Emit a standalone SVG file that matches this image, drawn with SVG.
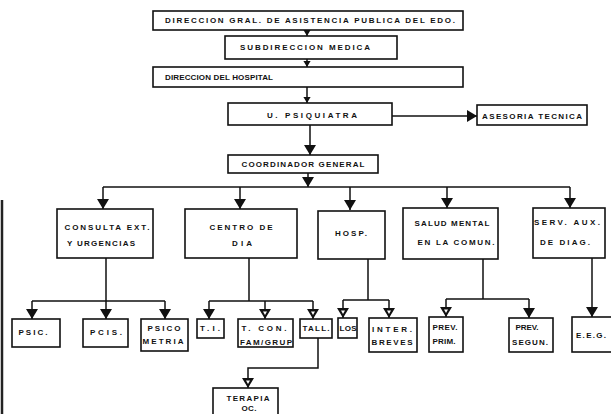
<svg xmlns="http://www.w3.org/2000/svg" width="611" height="414" viewBox="0 0 611 414">
<style>
.b{fill:#fff;stroke:#111;stroke-width:1.6}
.t{font-family:"Liberation Sans",Arial,sans-serif;font-weight:bold;font-size:8px;fill:#111;text-anchor:middle;dominant-baseline:central}
.c{fill:none;stroke:#111;stroke-width:1.5}
</style>
<defs>
<marker id="a" viewBox="0 0 10 12" markerUnits="userSpaceOnUse" markerWidth="10" markerHeight="12" refX="10" refY="6" orient="auto"><path d="M0,0 L10,6 L0,12 z" fill="#111"/></marker>
<marker id="s" viewBox="0 0 10 12" markerUnits="userSpaceOnUse" markerWidth="6" markerHeight="8" refX="10" refY="6" orient="auto"><path d="M0,0 L10,6 L0,12 z" fill="#111"/></marker>
<marker id="h" viewBox="0 0 10 12" markerUnits="userSpaceOnUse" markerWidth="10" markerHeight="12" refX="10" refY="6" orient="auto"><path d="M0,0 L10,6 L0,12 z" fill="#111"/><path d="M2.5,4 L6,6 L2.5,8 z" fill="#fff"/></marker>
</defs>
<line x1="2" y1="200" x2="2" y2="414" stroke="#222" stroke-width="2.5"/>
<g id="connectors">
<line class="c" x1="307" y1="30" x2="307" y2="36" marker-end="url(#s)"/>
<line class="c" x1="307" y1="59" x2="307" y2="67" marker-end="url(#s)"/>
<line class="c" x1="307" y1="87" x2="307" y2="103" marker-end="url(#s)"/>
<line class="c" x1="392" y1="116" x2="477" y2="116" marker-end="url(#a)"/>
<line class="c" x1="310" y1="125" x2="310" y2="155" marker-end="url(#a)"/>
<line class="c" x1="308" y1="173" x2="308" y2="187" marker-end="url(#a)"/>
<line class="c" x1="103" y1="187" x2="570" y2="187"/>
<line class="c" x1="103" y1="187" x2="103" y2="209" marker-end="url(#a)"/>
<line class="c" x1="240" y1="187" x2="240" y2="209" marker-end="url(#a)"/>
<line class="c" x1="350" y1="187" x2="350" y2="210" marker-end="url(#a)"/>
<line class="c" x1="447" y1="187" x2="447" y2="208" marker-end="url(#a)"/>
<line class="c" x1="570" y1="187" x2="570" y2="208" marker-end="url(#a)"/>
<path class="c" d="M106,258 V301 M32,301 H165"/>
<line class="c" x1="32" y1="301" x2="32" y2="319" marker-end="url(#a)"/>
<line class="c" x1="106" y1="301" x2="106" y2="319" marker-end="url(#a)"/>
<line class="c" x1="165" y1="301" x2="165" y2="319" marker-end="url(#a)"/>
<path class="c" d="M249,258 V301 M209,301 H313"/>
<line class="c" x1="209" y1="301" x2="209" y2="319" marker-end="url(#a)"/>
<line class="c" x1="265" y1="301" x2="265" y2="319" marker-end="url(#h)"/>
<line class="c" x1="313" y1="301" x2="313" y2="319" marker-end="url(#h)"/>
<path class="c" d="M318,338 V368 H248 V388" marker-end="url(#h)"/>
<path class="c" d="M368,259 V300 M343,300 H389"/>
<line class="c" x1="343" y1="300" x2="343" y2="318" marker-end="url(#h)"/>
<line class="c" x1="389" y1="300" x2="389" y2="318" marker-end="url(#h)"/>
<path class="c" d="M483,259 V299 M446,299 H529"/>
<line class="c" x1="446" y1="299" x2="446" y2="317" marker-end="url(#h)"/>
<line class="c" x1="529" y1="299" x2="529" y2="318" marker-end="url(#a)"/>
<line class="c" x1="592" y1="258" x2="592" y2="317" marker-end="url(#a)"/>
</g>
<g id="n1"><rect class="b" x="153" y="11" width="310" height="19"/><text class="t" x="310" y="20.5" textLength="290">DIRECCION GRAL. DE ASISTENCIA PUBLICA DEL EDO.</text></g>
<g id="n2"><rect class="b" x="225" y="36" width="172" height="23"/><text class="t" x="305" y="47.5" textLength="130">SUBDIRECCION MEDICA</text></g>
<g id="n3"><rect class="b" x="153" y="67" width="310" height="20"/><text class="t" x="219" y="77" textLength="108">DIRECCION DEL HOSPITAL</text></g>
<g id="n4"><rect class="b" x="228" y="103" width="164" height="22"/><text class="t" x="312" y="115" textLength="90">U. PSIQUIATRA</text></g>
<g id="n5"><rect class="b" x="477" y="105" width="110" height="20"/><text class="t" x="532" y="116" textLength="100">ASESORIA TECNICA</text></g>
<g id="n6"><rect class="b" x="228" y="155" width="150" height="18"/><text class="t" x="303" y="164" textLength="123">COORDINADOR GENERAL</text></g>
<g id="n7"><rect class="b" x="57" y="209" width="96" height="49"/><text class="t" x="107" y="227" textLength="85">CONSULTA EXT.</text><text class="t" x="101" y="243" textLength="68">Y URGENCIAS</text></g>
<g id="n8"><rect class="b" x="185" y="209" width="112" height="49"/><text class="t" x="241" y="227" textLength="63">CENTRO DE</text><text class="t" x="242" y="243" textLength="20">DIA</text></g>
<g id="n9"><rect class="b" x="318" y="211" width="67" height="48"/><text class="t" x="351" y="233" textLength="32">HOSP.</text></g>
<g id="n10"><rect class="b" x="403" y="208" width="95" height="51"/><text class="t" x="452" y="223" textLength="75">SALUD MENTAL</text><text class="t" x="456" y="242" textLength="77">EN LA COMUN.</text></g>
<g id="n11"><rect class="b" x="533" y="208" width="72" height="50"/><text class="t" x="567" y="222" textLength="66">SERV. AUX.</text><text class="t" x="565" y="242" textLength="50">DE DIAG.</text></g>
<g id="n12"><rect class="b" x="12" y="319" width="48" height="28"/><text class="t" x="33" y="332" textLength="29">PSIC.</text></g>
<g id="n13"><rect class="b" x="83" y="319" width="45" height="28"/><text class="t" x="106" y="332" textLength="32">PCIS.</text></g>
<g id="n14"><rect class="b" x="141" y="319" width="47" height="32"/><text class="t" x="164" y="328" textLength="33">PSICO</text><text class="t" x="163" y="341" textLength="41">METRIA</text></g>
<g id="n15"><rect class="b" x="197" y="319" width="27" height="19"/><text class="t" x="210" y="328" textLength="20">T.I.</text></g>
<g id="n16"><rect class="b" x="238" y="319" width="55" height="28"/><text class="t" x="264" y="328" textLength="45">T. CON.</text><text class="t" x="266" y="342" textLength="52">FAM/GRUP</text></g>
<g id="n17"><rect class="b" x="300" y="319" width="32" height="19"/><text class="t" x="316" y="328" textLength="27">TALL.</text></g>
<g id="n18"><rect class="b" x="338" y="318" width="19" height="20"/><text class="t" x="348" y="328" textLength="17">LOS</text></g>
<g id="n19"><rect class="b" x="369" y="318" width="48" height="34"/><text class="t" x="392" y="329" textLength="40">INTER.</text><text class="t" x="392" y="342" textLength="41">BREVES</text></g>
<g id="n20"><rect class="b" x="429" y="317" width="34" height="35"/><text class="t" x="445" y="327" textLength="25">PREV.</text><text class="t" x="444" y="341" textLength="23">PRIM.</text></g>
<g id="n21"><rect class="b" x="509" y="318" width="44" height="34"/><text class="t" x="527" y="327" textLength="23">PREV.</text><text class="t" x="530" y="342" textLength="36">SEGUN.</text></g>
<g id="n22"><rect class="b" x="572" y="317" width="50" height="35"/><text class="t" x="591" y="335" textLength="30">E.E.G.</text></g>
<g id="n23"><rect class="b" x="213" y="388" width="65" height="30"/><text class="t" x="248" y="398" textLength="43">TERAPIA</text><text class="t" x="249" y="408" textLength="15">OC.</text></g>
</svg>
